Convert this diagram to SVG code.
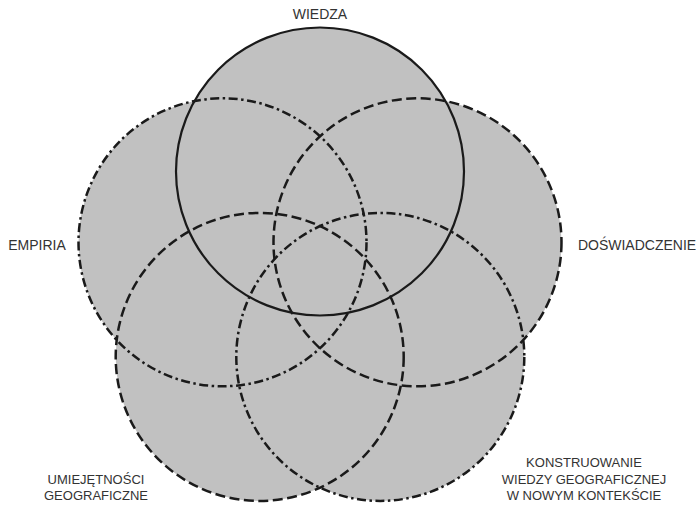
<svg xmlns="http://www.w3.org/2000/svg" width="699" height="505" viewBox="0 0 699 505">
<style>
.fill{fill:#c1c1c1;stroke:none}
.ring{fill:none;stroke:#1a1a1a;stroke-width:2.5}
.solid{stroke-width:2.2}
.dash{stroke-dasharray:10 4.5}
.dashdot{stroke-dasharray:9 3.5 2.5 3.5}
.lbl{font-family:"Liberation Sans",Arial,sans-serif;fill:#333;text-anchor:middle}
.t14{font-size:14px}
.t13{font-size:13px}
</style>
<rect width="699" height="505" fill="#fff"/>
<g id="fills">
<circle class="fill" cx="320" cy="171.5" r="144"/>
<circle class="fill" cx="222.5" cy="242.3" r="144"/>
<circle class="fill" cx="417.5" cy="242.3" r="144"/>
<circle class="fill" cx="259.7" cy="356.9" r="144"/>
<circle class="fill" cx="380.3" cy="356.9" r="144"/>
</g>
<g id="wiedza">
<circle class="ring solid" cx="320" cy="171.5" r="144"/>
<text class="lbl t14" x="320" y="19">WIEDZA</text>
</g>
<g id="empiria">
<circle class="ring dashdot" cx="222.5" cy="242.3" r="144"/>
<text class="lbl t14" x="37" y="250">EMPIRIA</text>
</g>
<g id="doswiadczenie">
<circle class="ring dash" cx="417.5" cy="242.3" r="144"/>
<text class="lbl t14" x="637" y="250">DOŚWIADCZENIE</text>
</g>
<g id="umiejetnosci">
<circle class="ring dash" cx="259.7" cy="356.9" r="144"/>
<text class="lbl t13" x="96" y="484">UMIEJĘTNOŚCI</text>
<text class="lbl t13" x="96" y="500">GEOGRAFICZNE</text>
</g>
<g id="konstruowanie">
<circle class="ring dashdot" cx="380.3" cy="356.9" r="144"/>
<text class="lbl t13" x="584" y="467">KONSTRUOWANIE</text>
<text class="lbl t13" x="584" y="484">WIEDZY GEOGRAFICZNEJ</text>
<text class="lbl t13" x="584" y="500">W NOWYM KONTEKŚCIE</text>
</g>
<g id="connectors"/>
</svg>
